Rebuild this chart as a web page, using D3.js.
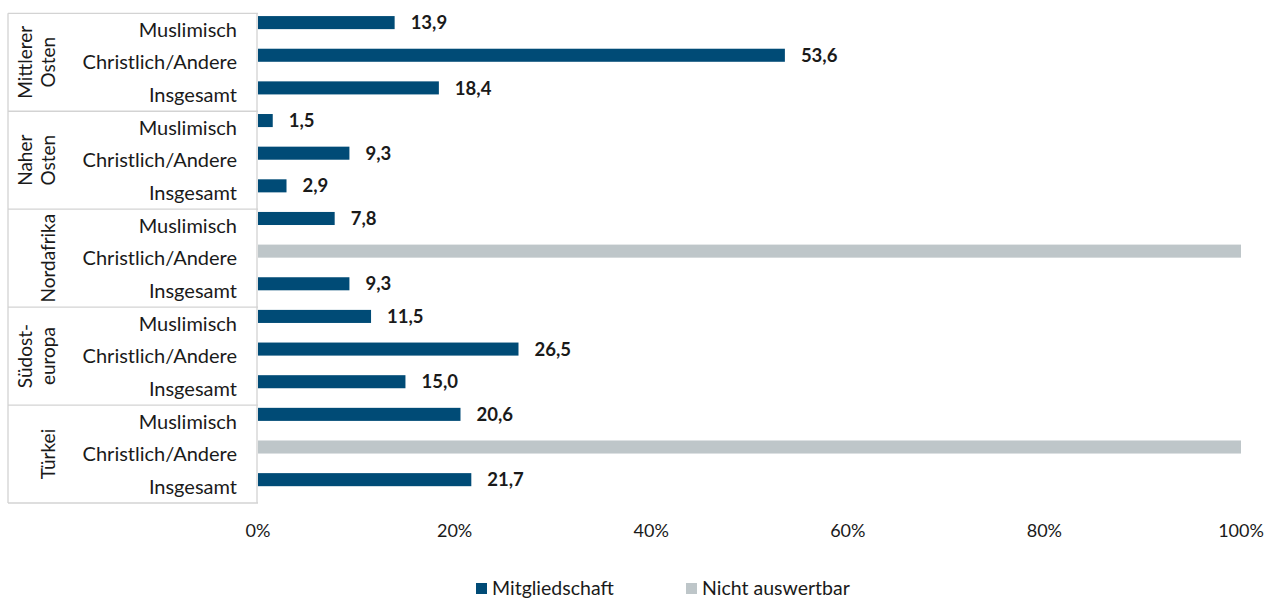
<!DOCTYPE html>
<html>
<head>
<meta charset="utf-8">
<script src="https://cdn.jsdelivr.net/npm/d3@7"></script>
<style>
  html, body { margin: 0; padding: 0; background: #fff; }
  svg { display: block; }
  text { font-family: Lato, "Noto Sans", sans-serif; fill: #1a1a1a; }
</style>
</head>
<body>
<svg id="chart" width="1269" height="599"></svg>
<script>
// Regions, each with three sub-groups
const regions = [["Mittlerer", "Osten"], ["Naher", "Osten"], ["Nordafrika"], ["Südost-", "europa"], ["Türkei"]];
const subgroups = ["Muslimisch", "Christlich/Andere", "Insgesamt"];

// Share with membership (%), null = not evaluable
const membership = [
  13.9, 53.6, 18.4,
  1.5, 9.3, 2.9,
  7.8, null, 9.3,
  11.5, 26.5, 15.0,
  20.6, null, 21.7
];
// Not evaluable share (%)
const notEvaluable = [
  0, 0, 0,
  0, 0, 0,
  0, 100, 0,
  0, 0, 0,
  0, 100, 0
];

const xTicks = [0, 20, 40, 60, 80, 100];
const seriesNames = ["Mitgliedschaft", "Nicht auswertbar"];
const colors = ["#004b76", "#bec6c9"];

const svg = d3.select("#chart");
const plot = { left: 258, right: 1241, top: 13.3, bottom: 503 };

const rows = d3.range(regions.length * subgroups.length);
const y = d3.scaleBand().domain(rows).range([plot.top, plot.bottom]).paddingInner(0).paddingOuter(0);
const x = d3.scaleLinear().domain([0, 100]).range([plot.left, plot.right]);

const bw = y.bandwidth();
const barTop = r => y(r) + bw * 0.085;
const barH = bw * 0.40;

// Category frame lines
const frame = svg.append("g").attr("stroke", "#d3d3d3").attr("stroke-width", 1.3).attr("fill", "none");
regions.forEach((reg, gi) => {
  const yy = y(gi * 3);
  frame.append("line").attr("x1", 8).attr("x2", plot.left).attr("y1", yy).attr("y2", yy);
});
frame.append("line").attr("x1", 8).attr("x2", plot.left).attr("y1", plot.bottom).attr("y2", plot.bottom);
frame.append("line").attr("x1", 8).attr("x2", 8).attr("y1", plot.top).attr("y2", plot.bottom);
frame.append("line").attr("x1", plot.left - 1).attr("x2", plot.left - 1).attr("y1", plot.top).attr("y2", plot.bottom);

// Not evaluable bars
svg.append("g").selectAll("rect").data(rows.filter(r => notEvaluable[r] > 0)).join("rect")
  .attr("x", x(0)).attr("y", r => barTop(r))
  .attr("width", r => x(notEvaluable[r]) - x(0)).attr("height", barH)
  .attr("fill", colors[1]);

// Membership bars
const valid = rows.filter(r => membership[r] !== null);
svg.append("g").selectAll("rect").data(valid).join("rect")
  .attr("x", x(0)).attr("y", r => barTop(r))
  .attr("width", r => x(membership[r]) - x(0)).attr("height", barH)
  .attr("fill", colors[0]);

// Value labels
const fmt = v => d3.format(".1f")(v).replace(".", ",");
svg.append("g").selectAll("text").data(valid).join("text")
  .attr("x", r => x(membership[r]) + 16)
  .attr("y", r => barTop(r) + barH / 2)
  .attr("dy", "0.36em")
  .attr("font-size", 18.5).attr("font-weight", "bold")
  .attr("fill", "#111")
  .text(r => fmt(membership[r]));

// Sub-group labels
svg.append("g").selectAll("text").data(rows).join("text")
  .attr("x", 237).attr("y", r => y(r) + bw / 2)
  .attr("dy", "0.36em").attr("text-anchor", "end")
  .attr("font-size", 20)
  .text(r => subgroups[r % 3]);

// Region labels, rotated
regions.forEach((lines, gi) => {
  const cy = y(gi * 3) + bw * 1.5;
  lines.forEach((ln, li) => {
    const cx = 48 - (lines.length - 1 - li) * 23;
    svg.append("text")
      .attr("transform", `translate(${cx},${cy}) rotate(-90)`)
      .attr("text-anchor", "middle").attr("dy", "0.36em")
      .attr("font-size", 19)
      .text(ln);
  });
});

// X axis tick labels
svg.append("g").selectAll("text").data(xTicks).join("text")
  .attr("x", d => x(d)).attr("y", 531).attr("dy", "0.36em")
  .attr("text-anchor", "middle").attr("font-size", 18)
  .text(d => d + "%");

// Legend
const legend = svg.append("g");
const legendX = [476, 686];
seriesNames.forEach((name, i) => {
  legend.append("rect").attr("x", legendX[i]).attr("y", 583).attr("width", 11).attr("height", 11).attr("fill", colors[i]);
  legend.append("text").attr("x", legendX[i] + 16).attr("y", 588).attr("dy", "0.36em")
    .attr("font-size", 19.5).text(name);
});
</script>
</body>
</html>
